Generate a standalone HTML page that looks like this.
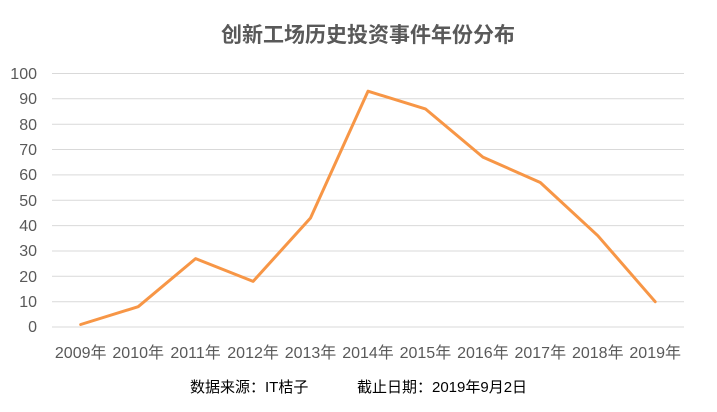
<!DOCTYPE html><html><head><meta charset="utf-8"><style>body{margin:0;background:#fff}svg{display:block}</style></head><body>
<svg width="717" height="412" xmlns="http://www.w3.org/2000/svg" font-family="'Liberation Sans','Noto Sans CJK SC',sans-serif">
<text x="368" y="42" text-anchor="middle" font-size="21" font-weight="bold" fill="#595959">创新工场历史投资事件年份分布</text>
<g stroke="#d9d9d9" stroke-width="1">
<line x1="52" x2="684" y1="73.5" y2="73.5"/><line x1="52" x2="684" y1="98.8" y2="98.8"/><line x1="52" x2="684" y1="124.2" y2="124.2"/><line x1="52" x2="684" y1="149.5" y2="149.5"/><line x1="52" x2="684" y1="174.9" y2="174.9"/><line x1="52" x2="684" y1="200.3" y2="200.3"/><line x1="52" x2="684" y1="225.6" y2="225.6"/><line x1="52" x2="684" y1="251" y2="251"/><line x1="52" x2="684" y1="276.3" y2="276.3"/><line x1="52" x2="684" y1="301.7" y2="301.7"/><line x1="52" x2="684" y1="327" y2="327"/></g>
<g font-size="16" fill="#595959" text-anchor="end">
<text x="37" y="79">100</text><text x="37" y="104">90</text><text x="37" y="130">80</text><text x="37" y="155">70</text><text x="37" y="180">60</text><text x="37" y="206">50</text><text x="37" y="231">40</text><text x="37" y="256">30</text><text x="37" y="282">20</text><text x="37" y="307">10</text><text x="37" y="332">0</text></g>
<g font-size="16" fill="#595959" text-anchor="middle">
<text x="80.7" y="358">2009年</text><text x="138.2" y="358">2010年</text><text x="195.6" y="358">2011年</text><text x="253.1" y="358">2012年</text><text x="310.5" y="358">2013年</text><text x="368" y="358">2014年</text><text x="425.4" y="358">2015年</text><text x="482.9" y="358">2016年</text><text x="540.3" y="358">2017年</text><text x="597.8" y="358">2018年</text><text x="655.2" y="358">2019年</text></g>
<polyline fill="none" stroke="#f79646" stroke-width="3" stroke-linejoin="round" stroke-linecap="round" points="80.7,324.5 138.2,306.7 195.6,258.6 253.1,281.4 310.5,218 368,91.2 425.4,108.9 482.9,157.1 540.3,182.5 597.8,235.7 655.2,301.7"/>
<text x="190" y="392" font-size="15" fill="#000">数据来源：IT桔子</text>
<text x="357" y="392" font-size="15" fill="#000">截止日期：2019年9月2日</text>
</svg></body></html>
